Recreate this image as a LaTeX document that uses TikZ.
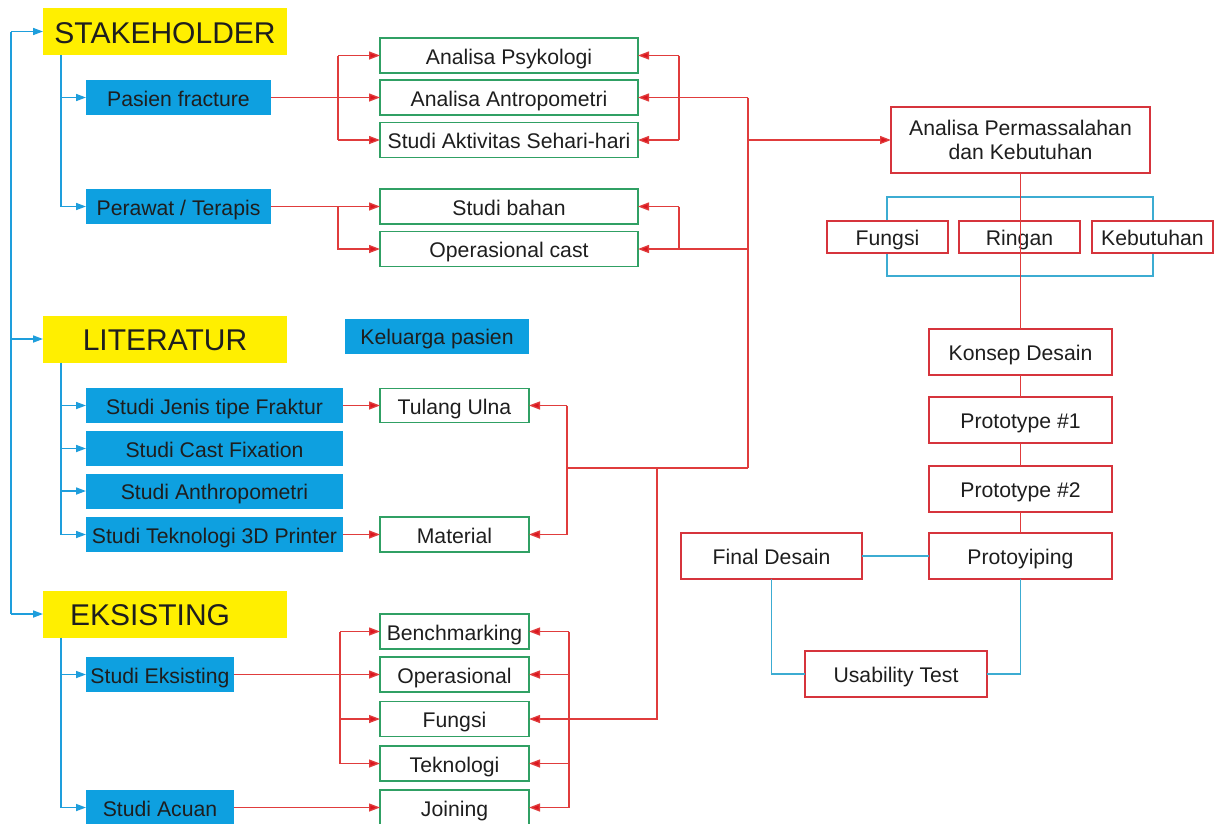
\documentclass[tikz,border=0pt]{standalone}
\usepackage{fontspec}
\setmainfont{Liberation Sans}
\usetikzlibrary{arrows.meta}
\definecolor{yel}{RGB}{255,239,0}
\definecolor{bfill}{RGB}{14,160,224}
\definecolor{bline}{RGB}{30,158,220}
\definecolor{rline}{RGB}{224,60,60}
\definecolor{rtip}{RGB}{220,20,30}
\definecolor{gline}{RGB}{48,160,100}
\definecolor{rbox}{RGB}{214,52,60}
\definecolor{cline}{RGB}{60,172,210}
\definecolor{txt}{RGB}{30,30,30}
\tikzset{
  base0/.style={inner sep=0pt, outer sep=0pt, text=txt, font=\fontsize{21.2}{25}\selectfont},
  base/.style={base0, text height=17.8pt, text depth=0pt},
  ybox/.style={inner sep=0pt, outer sep=0pt, text=txt, fill=yel, minimum width=244, minimum height=47, font=\fontsize{30}{34}\selectfont, text height=23.5pt, text depth=0pt},
  bbox/.style={base, fill=bfill},
  gbox/.style={base, draw=gline, line width=1.4pt, fill=white},
  rbx/.style={base, draw=rbox, line width=1.4pt, fill=white},
  rbx0/.style={base0, draw=rbox, line width=1.4pt, fill=white},
  bln/.style={draw=bline, line width=1.6pt},
  barr/.style={bln, -{Triangle[length=10pt,width=7pt]}},
  rln/.style={draw=rline, line width=1.3pt},
  rarr/.style={rln, -{Triangle[length=11pt,width=8pt,fill=rtip]}},
  cln/.style={draw=cline, line width=1.3pt},
}
\begin{document}
\begin{tikzpicture}[x=1pt,y=-1pt]
\useasboundingbox[fill=white] (0,0) rectangle (1222,823);
% bracket behind the three criteria boxes
\draw[cln] (887,197) rectangle (1153,276);
% yellow headers
\node[ybox] (stk) at (165,31.5) {STAKEHOLDER};
\node[ybox] (lit) at (165,339) {LITERATUR};
\node[ybox, text width=216, align=left, inner xsep=14pt] (eks) at (165,614) {\hspace{13pt}EKSISTING};
% blue boxes
\node[bbox, minimum width=185, minimum height=35] (pas) at (178.5,97.5) {Pasien fracture};
\node[bbox, minimum width=185, minimum height=35] (per) at (178.5,206.5) {Perawat / Terapis};
\node[bbox, minimum width=184, minimum height=35] (kel) at (437,336) {Keluarga pasien};
\node[bbox, minimum width=257, minimum height=35] (sj) at (214.5,405.5) {Studi Jenis tipe Fraktur};
\node[bbox, minimum width=257, minimum height=35] (sc) at (214.5,448.5) {Studi Cast Fixation};
\node[bbox, minimum width=257, minimum height=35] (san) at (214.5,491) {Studi Anthropometri};
\node[bbox, minimum width=257, minimum height=35] (st) at (214.5,534.5) {Studi Teknologi 3D Printer};
\node[bbox, minimum width=148, minimum height=35] (se) at (160,674.5) {Studi Eksisting};
\node[bbox, minimum width=148, minimum height=35] (sa) at (160,807.5) {Studi Acuan};
% green boxes
\node[gbox, minimum width=258, minimum height=35] (psy) at (509,55.5) {Analisa Psykologi};
\node[gbox, minimum width=258, minimum height=35] (ant) at (509,97.5) {Analisa Antropometri};
\node[gbox, minimum width=258, minimum height=35] (akt) at (509,140) {Studi Aktivitas Sehari-hari};
\node[gbox, minimum width=258, minimum height=35] (bah) at (509,206.5) {Studi bahan};
\node[gbox, minimum width=258, minimum height=35] (ops) at (509,249) {Operasional cast};
\node[gbox, minimum width=149, minimum height=34] (tul) at (454.5,405.5) {Tulang Ulna};
\node[gbox, minimum width=149, minimum height=35] (mat) at (454.5,534.5) {Material};
\node[gbox, minimum width=149, minimum height=35] (ben) at (454.5,631.5) {Benchmarking};
\node[gbox, minimum width=149, minimum height=35] (opr) at (454.5,674.5) {Operasional};
\node[gbox, minimum width=149, minimum height=35] (fun) at (454.5,719) {Fungsi};
\node[gbox, minimum width=149, minimum height=35] (tek) at (454.5,763.5) {Teknologi};
\node[gbox, minimum width=149, minimum height=35] (joi) at (454.5,807.5) {Joining};
% right column boxes
\node[rbx0, minimum width=259, minimum height=66, align=center] (apk) at (1020.5,140) {Analisa Permassalahan\\[-1pt]dan Kebutuhan};
\node[rbx, minimum width=121, minimum height=32] (fg) at (887.5,237) {Fungsi};
\node[rbx, minimum width=121, minimum height=32] (rg) at (1019.5,237) {Ringan};
\node[rbx, minimum width=121, minimum height=32] (kb) at (1152.5,237) {Kebutuhan};
\node[rbx, minimum width=183, minimum height=46] (kon) at (1020.5,352) {Konsep Desain};
\node[rbx, minimum width=183, minimum height=46] (p1) at (1020.5,420) {Prototype \#1};
\node[rbx, minimum width=183, minimum height=46] (p2) at (1020.5,489) {Prototype \#2};
\node[rbx, minimum width=183, minimum height=46] (pro) at (1020.5,556) {Protoyiping};
\node[rbx, minimum width=181, minimum height=46] (fin) at (771.5,556) {Final Desain};
\node[rbx, minimum width=182, minimum height=46] (usa) at (896,674) {Usability Test};
% junction coordinates
\coordinate (L) at (11,0);
\coordinate (S) at (61,0);
\coordinate (R1) at (338,0);
\coordinate (R2) at (679,0);
\coordinate (V) at (748,0);
\coordinate (R4) at (567,0);
\coordinate (M) at (748,468);
\coordinate (N) at (657,468);
\coordinate (R5) at (340,0);
\coordinate (R6) at (569,0);
% left blue tree
\draw[bln] (L |- stk.west) -- (L |- eks.west);
\draw[barr] (L |- stk.west) -- (stk.west);
\draw[barr] (L |- lit.west) -- (lit.west);
\draw[barr] (L |- eks.west) -- (eks.west);
\draw[bln] (stk.south -| S) -- (S |- per.west);
\draw[barr] (S |- pas.west) -- (pas.west);
\draw[barr] (S |- per.west) -- (per.west);
\draw[bln] (lit.south -| S) -- (S |- st.west);
\draw[barr] (S |- sj.west) -- (sj.west);
\draw[barr] (S |- sc.west) -- (sc.west);
\draw[barr] (S |- san.west) -- (san.west);
\draw[barr] (S |- st.west) -- (st.west);
\draw[bln] (eks.south -| S) -- (S |- sa.west);
\draw[barr] (S |- se.west) -- (se.west);
\draw[barr] (S |- sa.west) -- (sa.west);
% red: stakeholder
\draw[rarr] (pas.east) -- (ant.west);
\draw[rln] (R1 |- psy.west) -- (R1 |- akt.west);
\draw[rarr] (R1 |- psy.west) -- (psy.west);
\draw[rarr] (R1 |- akt.west) -- (akt.west);
\draw[rarr] (per.east) -- (bah.west);
\draw[rarr] (R1 |- per.east) |- (ops.west);
\draw[rln] (R2 |- psy.east) -- (R2 |- akt.east);
\draw[rarr] (R2 |- psy.east) -- (psy.east);
\draw[rarr] (R2 |- akt.east) -- (akt.east);
\draw[rarr] (V |- ant.east) -- (ant.east);
\draw[rln] (V |- ant.east) -- (M);
\draw[rarr] (V |- apk.west) -- (apk.west);
\draw[rln] (R2 |- bah.east) -- (R2 |- ops.east);
\draw[rarr] (R2 |- bah.east) -- (bah.east);
\draw[rarr] (V |- ops.east) -- (ops.east);
% red: literatur
\draw[rarr] (sj.east) -- (tul.west);
\draw[rarr] (st.east) -- (mat.west);
\draw[rln] (R4 |- tul.east) -- (R4 |- mat.east);
\draw[rarr] (R4 |- tul.east) -- (tul.east);
\draw[rarr] (R4 |- mat.east) -- (mat.east);
\draw[rln] (R4 |- M) -- (M);
\draw[rarr] (N) |- (fun.east);
% red: eksisting
\draw[rln] (R5 |- ben.west) -- (R5 |- tek.west);
\draw[rarr] (R5 |- ben.west) -- (ben.west);
\draw[rarr] (R5 |- fun.west) -- (fun.west);
\draw[rarr] (R5 |- tek.west) -- (tek.west);
\draw[rarr] (se.east) -- (opr.west);
\draw[rarr] (sa.east) -- (joi.west);
\draw[rln] (R6 |- ben.east) -- (R6 |- joi.east);
\draw[rarr] (R6 |- ben.east) -- (ben.east);
\draw[rarr] (R6 |- opr.east) -- (opr.east);
\draw[rarr] (R6 |- tek.east) -- (tek.east);
\draw[rarr] (R6 |- joi.east) -- (joi.east);
% right column
\draw[rln] (apk.south) -- (kon.north);
\draw[rln] (kon.south) -- (p1.north);
\draw[rln] (p1.south) -- (p2.north);
\draw[rln] (p2.south) -- (pro.north);
\draw[cln] (fin.east) -- (pro.west);
\draw[cln] (fin.south) |- (usa.west);
\draw[cln] (pro.south) |- (usa.east);
\end{tikzpicture}
\end{document}
